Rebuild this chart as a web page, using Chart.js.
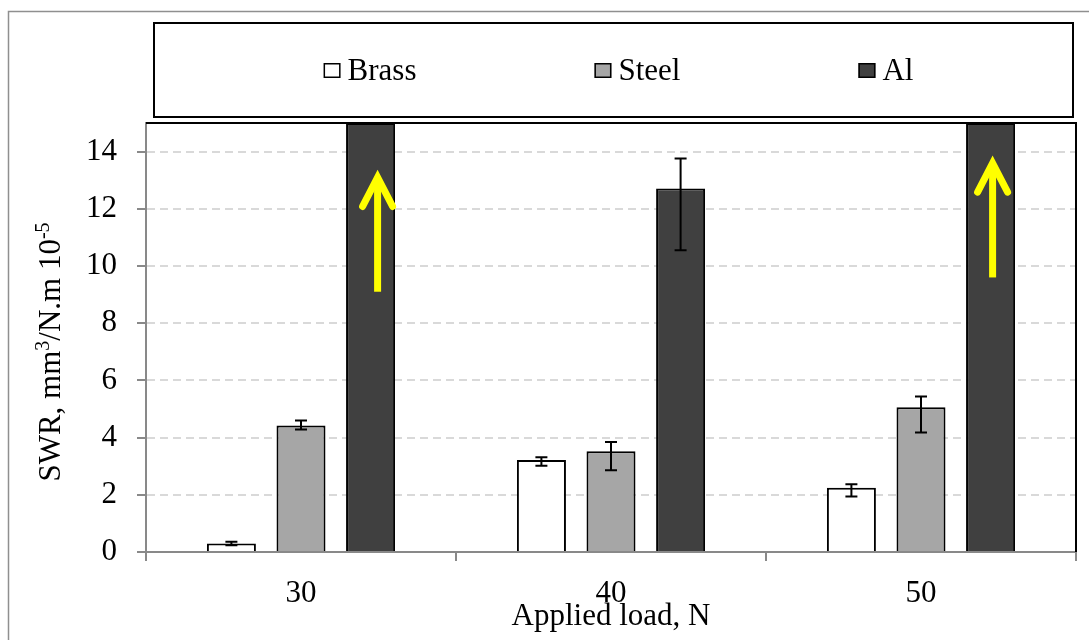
<!DOCTYPE html>
<html>
<head>
<meta charset="utf-8">
<script src="https://cdn.jsdelivr.net/npm/chart.js@4.4.1/dist/chart.umd.min.js"></script>
<style>
  html, body { margin: 0; padding: 0; background: #fff; }
  #wrap { width: 1089px; height: 640px; position: relative; }
</style>
</head>
<body>
<div id="wrap"><canvas id="c" width="1089" height="640"></canvas></div>
<script>
// Applied load categories (N)
const loads = ['30', '40', '50'];

// Specific wear rate, mm³/N.m ×10⁻⁵
const brass = [0.30, 3.22, 2.25];
const brassErrUp = [0.06, 0.09, 0.12];
const brassErrDown = [0.06, 0.20, 0.31];

const steel = [4.42, 3.52, 5.06];
const steelErrUp = [0.18, 0.33, 0.38];
const steelErrDown = [0.14, 0.66, 0.88];

// Al at 30 N and 50 N runs off the top of the axis; the bars are cut at the axis maximum
const al = [15, 12.71, 15];
const alErrUp = [null, 1.05, null];
const alErrDown = [null, 2.16, null];

// Value axis
const yTicks = [0, 2, 4, 6, 8, 10, 12, 14];
const yMax = 15;

// Off-scale arrows (in axis units), one per load where Al exceeds the axis
const arrowTail = [9.1, null, 9.6];
const arrowTip = [13.2, null, 13.7];

const FONT = "'Liberation Serif', 'Times New Roman', serif";
const AXIS_GRAY = '#898989';

// white page with a thin grey frame
const pageFrame = {
  id: 'pageFrame',
  beforeDraw(chart) {
    const { ctx, width, height } = chart;
    ctx.save();
    ctx.fillStyle = '#fff';
    ctx.fillRect(0, 0, width, height);
    ctx.strokeStyle = '#8f8f8f';
    ctx.lineWidth = 1.5;
    ctx.strokeRect(8.5, 11.5, width + 20, height + 20);
    ctx.restore();
  }
};

// error bars with separate upper / lower extents
const errorBars = {
  id: 'errorBars',
  afterDatasetsDraw(chart) {
    const { ctx, chartArea } = chart;
    const ys = chart.scales.y;
    ctx.save();
    ctx.beginPath();
    ctx.rect(chartArea.left, chartArea.top, chartArea.right - chartArea.left, chartArea.bottom - chartArea.top);
    ctx.clip();
    ctx.strokeStyle = '#000';
    ctx.lineWidth = 2;
    chart.data.datasets.forEach((ds, i) => {
      const meta = chart.getDatasetMeta(i);
      meta.data.forEach((bar, j) => {
        const up = ds.errUp[j], down = ds.errDown[j];
        if (up == null || down == null) return;
        const v = ds.data[j];
        const yTop = ys.getPixelForValue(v + up);
        const yBot = ys.getPixelForValue(v - down);
        const x = bar.x, cap = 6;
        ctx.beginPath();
        ctx.moveTo(x, yTop); ctx.lineTo(x, yBot);
        ctx.moveTo(x - cap, yTop); ctx.lineTo(x + cap, yTop);
        ctx.moveTo(x - cap, yBot); ctx.lineTo(x + cap, yBot);
        ctx.stroke();
      });
    });
    ctx.restore();
  }
};

// yellow arrows on the bars that leave the axis range
const offScaleArrows = {
  id: 'offScaleArrows',
  afterDatasetsDraw(chart) {
    const { ctx } = chart;
    const ys = chart.scales.y;
    const meta = chart.getDatasetMeta(2);
    const shift = [7, 0, 2];
    ctx.save();
    ctx.strokeStyle = '#ffff00';
    ctx.lineWidth = 7;
    meta.data.forEach((bar, j) => {
      if (arrowTip[j] == null) return;
      const x = bar.x + shift[j];
      const yTip = ys.getPixelForValue(arrowTip[j]);
      const yTail = ys.getPixelForValue(arrowTail[j]);
      ctx.lineCap = 'butt';
      ctx.beginPath();
      ctx.moveTo(x, yTail); ctx.lineTo(x, yTip + 4);
      ctx.stroke();
      ctx.lineCap = 'round';
      ctx.lineJoin = 'miter';
      ctx.beginPath();
      ctx.moveTo(x - 15, yTip + 32);
      ctx.lineTo(x, yTip + 3);
      ctx.lineTo(x + 15, yTip + 32);
      ctx.stroke();
    });
    ctx.restore();
  }
};

// plot frame (top/right), boxed legend and the y-axis title with superscripts
const decorations = {
  id: 'decorations',
  afterDraw(chart) {
    const { ctx, chartArea } = chart;
    ctx.save();

    // plot area frame, top and right edges
    ctx.strokeStyle = '#000';
    ctx.lineWidth = 2;
    ctx.beginPath();
    ctx.moveTo(chartArea.left, chartArea.top);
    ctx.lineTo(chartArea.right, chartArea.top);
    ctx.lineTo(chartArea.right, chartArea.bottom);
    ctx.stroke();

    // legend frame
    const lx0 = chartArea.left + 8, lx1 = chartArea.right - 3;
    const ly0 = 23, ly1 = chartArea.top - 6;
    ctx.strokeRect(lx0, ly0, lx1 - lx0, ly1 - ly0);

    // legend entries
    const legendFont = '31px ' + FONT;
    ctx.font = legendFont;
    ctx.textBaseline = 'alphabetic';
    const box = 17, boxH = 15, textGap = 7, gap = 178;
    const items = chart.data.datasets.map(ds => ({
      text: ds.label, color: ds.backgroundColor, w: ctx.measureText(ds.label).width
    }));
    const total = items.reduce((s, it) => s + box + textGap + it.w, 0) + gap * (items.length - 1);
    let x = (lx0 + lx1) / 2 - total / 2 + 5;
    const baseY = 80;
    items.forEach(it => {
      ctx.fillStyle = it.color;
      ctx.fillRect(x, baseY - 17, box, boxH);
      ctx.lineWidth = 1.5;
      ctx.strokeStyle = '#000';
      ctx.strokeRect(x + 0.75, baseY - 17 + 0.75, box - 1.5, boxH - 1.5);
      ctx.fillStyle = '#000';
      ctx.font = legendFont;
      ctx.fillText(it.text, x + box + textGap, baseY);
      x += box + textGap + it.w + gap;
    });

    // y-axis title: SWR, mm³/N.m 10⁻⁵
    const parts = [
      { t: 'SWR, mm', sup: false },
      { t: '3', sup: true },
      { t: '/N.m 10', sup: false },
      { t: '-5', sup: true }
    ];
    const mainFont = '31px ' + FONT, supFont = '20px ' + FONT;
    let tw = 0;
    parts.forEach(p => { ctx.font = p.sup ? supFont : mainFont; p.w = ctx.measureText(p.t).width; tw += p.w; });
    ctx.translate(60, 352);
    ctx.rotate(-Math.PI / 2);
    ctx.fillStyle = '#000';
    let px = -tw / 2;
    parts.forEach(p => {
      ctx.font = p.sup ? supFont : mainFont;
      ctx.fillText(p.t, px, p.sup ? -11 : 0);
      px += p.w;
    });
    ctx.restore();
  }
};

new Chart(document.getElementById('c'), {
  type: 'bar',
  data: {
    labels: loads,
    datasets: [
      { label: 'Brass', data: brass, errUp: brassErrUp, errDown: brassErrDown,
        backgroundColor: '#ffffff', borderColor: '#000', borderWidth: 2 },
      { label: 'Steel', data: steel, errUp: steelErrUp, errDown: steelErrDown,
        backgroundColor: '#a6a6a6', borderColor: '#000', borderWidth: 2 },
      { label: 'Al', data: al, errUp: alErrUp, errDown: alErrDown,
        backgroundColor: '#404040', borderColor: '#000', borderWidth: 2 }
    ]
  },
  options: {
    responsive: false,
    animation: false,
    events: [],
    layout: { padding: { top: 123, right: 13, bottom: 8, left: 0 } },
    datasets: { bar: { categoryPercentage: 0.6735, barPercentage: 0.704 } },
    plugins: { legend: { display: false }, tooltip: { enabled: false } },
    scales: {
      x: {
        grid: { display: true, drawOnChartArea: false, drawTicks: true, tickLength: 9,
                color: AXIS_GRAY, tickColor: AXIS_GRAY, tickWidth: 2, lineWidth: 2 },
        border: { color: AXIS_GRAY, width: 2 },
        ticks: { color: '#000', font: { family: FONT, size: 31 }, padding: 14 },
        title: { display: true, text: 'Applied load, N', color: '#000',
                 font: { family: FONT, size: 31, lineHeight: 1 }, padding: { top: 0, bottom: 0 } },
        afterFit(scale) { scale.height = 80; }
      },
      y: {
        min: 0,
        max: yMax,
        afterBuildTicks(scale) { scale.ticks = yTicks.map(v => ({ value: v })); },
        grid: { color: '#d9d9d9', lineWidth: 2, tickLength: 9, tickColor: AXIS_GRAY, tickWidth: 2 },
        border: { color: AXIS_GRAY, width: 2, dash: [8, 5] },
        ticks: { color: '#000', font: { family: FONT, size: 31 }, padding: 20 },
        afterFit(scale) { scale.width = 146; }
      }
    }
  },
  plugins: [pageFrame, errorBars, offScaleArrows, decorations]
});
</script>
</body>
</html>
